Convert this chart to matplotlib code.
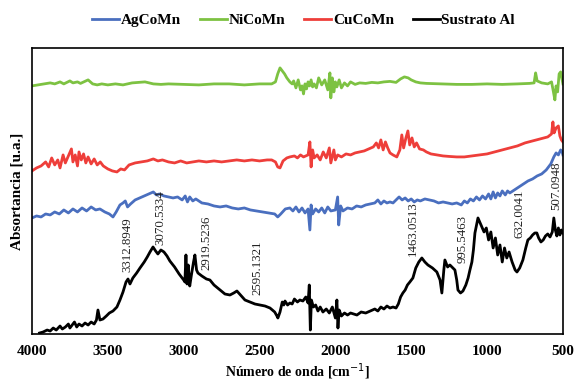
import matplotlib
matplotlib.use("Agg")
import matplotlib.pyplot as plt
import numpy as np

# FTIR spectra, y in arbitrary (offset) absorbance units
wn_ni = [4000, 3960, 3920, 3880, 3850, 3815, 3790, 3750, 3730, 3700, 3680, 3630, 3600,
         3570, 3540, 3500, 3450, 3400, 3340, 3255, 3200, 3150, 3100, 3000, 2900, 2800,
         2700, 2600, 2500, 2420, 2395, 2380, 2365, 2350, 2335, 2320, 2300, 2285, 2275,
         2260, 2245, 2230, 2220, 2210, 2200, 2190, 2180, 2170, 2160, 2150, 2140, 2125,
         2110, 2090, 2070, 2050, 2036, 2030, 2020, 2010, 2000, 1990, 1975, 1960, 1940,
         1920, 1900, 1870, 1840, 1800, 1760, 1720, 1680, 1640, 1600, 1570, 1545, 1520,
         1500, 1470, 1440, 1400, 1300, 1200, 1100, 1000, 900, 800, 720, 690, 680, 670,
         640, 600, 575, 565, 553, 545, 535, 525, 515, 505, 500]
ab_ni = [248, 249, 250, 251, 250, 252, 250, 253, 251, 252, 250.5, 254, 250,
         249, 250, 249, 250, 249, 251, 252, 250, 249.5, 250, 249.5, 249, 250,
         250, 249, 250, 250, 252, 260, 266, 263, 260, 256, 252, 250, 253,
         246, 254, 244, 248, 240, 250, 245, 252, 248, 254, 247, 250, 246,
         256, 249, 254, 244, 261, 236, 256, 242, 252, 247, 254, 246, 251,
         248, 252, 249.5, 251, 250.5, 251.5, 251, 252, 252.5, 251.5, 255, 257, 256,
         254, 252, 251, 250.5, 250, 249.5, 249.5, 250, 249.5, 250, 250.5, 251, 261, 253,
         251, 250, 252, 244, 234, 248, 242, 260, 262, 254, 250]

wn_cu = [4000, 3970, 3940, 3910, 3890, 3870, 3850, 3830, 3815, 3795, 3780, 3740, 3730,
         3715, 3700, 3690, 3675, 3660, 3645, 3630, 3610, 3590, 3570, 3550, 3530, 3500,
         3470, 3440, 3415, 3390, 3360, 3320, 3280, 3240, 3200, 3170, 3140, 3100, 3060,
         3020, 2980, 2940, 2900, 2850, 2800, 2750, 2700, 2650, 2600, 2550, 2500, 2450,
         2420, 2395, 2380, 2365, 2345, 2320, 2300, 2270, 2250, 2230, 2210, 2180, 2168,
         2160, 2150, 2140, 2120, 2100, 2080, 2060, 2040, 2030, 2010, 2000, 1985, 1960,
         1930, 1900, 1870, 1840, 1810, 1780, 1750, 1730, 1715, 1700, 1685, 1670, 1655,
         1640, 1620, 1595, 1575, 1562, 1550, 1535, 1522, 1510, 1495, 1480, 1465, 1445,
         1420, 1400, 1370, 1330, 1290, 1250, 1200, 1150, 1100, 1050, 1000, 950, 900,
         850, 800, 750, 700, 650, 600, 575, 566, 558, 545, 530, 520, 510, 500]
ab_cu = [163, 166, 168, 172, 167, 176, 169, 174, 166, 179, 171, 185, 172,
         179, 168, 182, 174, 180, 171, 177, 170, 175, 169, 172, 168, 165,
         163, 162, 165, 164, 169, 171, 172, 173, 175, 173, 174, 172, 171,
         173, 171, 172, 173, 172, 173, 172, 173, 174, 173, 174, 173, 174,
         174, 172, 167, 166, 173, 176, 177, 178, 176, 179, 177, 179, 192,
         167, 184, 176, 179, 174, 182, 176, 186, 171, 184, 174, 179, 177,
         180, 179, 181, 182, 183, 185, 187, 191, 186, 194, 184, 192, 186,
         181, 179, 177, 184, 199, 186, 196, 203, 189, 196, 187, 191, 185,
         184, 182, 180, 179, 178, 177.5, 177, 177, 178, 179, 180, 182, 184,
         186, 188, 191, 193, 195, 197, 200, 212, 201, 206, 208, 198, 194, 192]

wn_ag = [4000, 3970, 3940, 3910, 3880, 3850, 3820, 3790, 3760, 3730, 3700, 3670, 3640,
         3610, 3580, 3552, 3520, 3490, 3466, 3445, 3420, 3400, 3385, 3370, 3350, 3320,
         3290, 3260, 3230, 3200, 3180, 3160, 3130, 3100, 3070, 3040, 3010, 2990, 2975,
         2960, 2940, 2920, 2880, 2840, 2800, 2760, 2720, 2680, 2640, 2600, 2560, 2520,
         2480, 2440, 2400, 2380, 2360, 2330, 2300, 2280, 2260, 2240, 2220, 2200, 2180,
         2168, 2160, 2150, 2130, 2110, 2090, 2070, 2050, 2030, 2000, 1985, 1978, 1965,
         1950, 1920, 1890, 1860, 1830, 1800, 1770, 1740, 1720, 1700, 1680, 1660, 1640,
         1620, 1600, 1580, 1560, 1540, 1520, 1500, 1480, 1460, 1440, 1410, 1380, 1350,
         1320, 1290, 1260, 1230, 1200, 1170, 1150, 1130, 1110, 1090, 1070, 1050, 1030,
         1010, 990, 975, 960, 945, 930, 915, 900, 880, 865, 850, 820, 790, 760, 730,
         700, 670, 640, 610, 580, 560, 545, 530, 515, 505, 500]
ab_ag = [116, 118, 117, 120, 119, 122, 120, 124, 121, 125, 122, 126, 123,
         127, 124, 125, 122, 120, 117, 122, 129, 131, 133, 127, 130, 134,
         136, 138, 140, 142, 139, 140, 138, 137, 136, 137, 134, 138, 132,
         137, 133, 135, 131, 130, 128, 127, 128, 126, 125, 126, 124, 123,
         122, 121, 120, 117, 120, 125, 126, 123, 127, 122, 126, 121, 125,
         104, 129, 120, 125, 122, 126, 121, 127, 123, 124, 137, 109, 128,
         123, 126, 125, 128, 127, 129, 130, 131, 134, 130, 133, 131, 132,
         131, 134, 137, 134, 136, 133, 135, 132, 134, 133, 135, 134, 133,
         131, 132, 131, 130, 131, 129, 133, 131, 135, 133, 137, 134, 138,
         135, 140, 135, 142, 136, 141, 138, 143, 139, 143, 141, 144, 147, 150, 153,
         155, 158, 160, 164, 170, 177, 181, 179, 184, 182, 179]

wn_al = [3950, 3927, 3900, 3880, 3860, 3840, 3815, 3800, 3780, 3760, 3750, 3735, 3720,
         3705, 3690, 3670, 3650, 3630, 3610, 3590, 3575, 3565, 3552, 3532, 3510, 3490,
         3466, 3440, 3420, 3400, 3380, 3367, 3354, 3335, 3310, 3288, 3260, 3240, 3222,
         3202, 3185, 3170, 3150, 3130, 3110, 3091, 3060, 3030, 3000, 2992, 2985, 2978,
         2970, 2960, 2950, 2935, 2926, 2915, 2906, 2880, 2850, 2827, 2800, 2760, 2728,
         2695, 2670, 2649, 2620, 2596, 2563, 2530, 2497, 2464, 2431, 2400, 2385, 2379,
         2365, 2350, 2340, 2332, 2315, 2300, 2285, 2270, 2250, 2234, 2214, 2195, 2180,
         2172, 2165, 2158, 2145, 2130, 2115, 2100, 2082, 2060, 2040, 2020, 2000, 1990,
         1983, 1975, 1960, 1940, 1920, 1900, 1880, 1858, 1830, 1800, 1770, 1740, 1720,
         1700, 1680, 1660, 1640, 1620, 1600, 1585, 1570, 1555, 1540, 1525, 1509, 1489,
         1470, 1450, 1430, 1410, 1390, 1360, 1331, 1310, 1298, 1285, 1278, 1260, 1245,
         1225, 1212, 1200, 1192, 1175, 1159, 1140, 1125, 1113, 1100, 1090, 1080, 1060,
         1040, 1020, 1005, 990, 975, 960, 945, 930, 915, 900, 885, 870, 855, 835, 815,
         803, 785, 764, 745, 731, 715, 700, 685, 672, 660, 645, 630, 615, 600, 585,
         570, 560, 550, 540, 530, 520, 510, 500]
ab_al = [1, 2, 4, 3, 6, 4, 8, 5, 7, 10, 6, 9, 12,
         7, 10, 8, 11, 9, 12, 10, 14, 24, 14, 15, 18, 21,
         23, 27, 34, 42, 52, 55, 50, 56, 61, 66, 72, 77, 82,
         87, 83, 80, 84, 82, 78, 73, 67, 60, 54, 52, 79, 50,
         69, 48, 58, 72, 79, 64, 61, 58, 55, 54, 49, 44, 40,
         39, 41, 43, 38, 34, 32, 30, 29, 28, 26, 22, 18, 16,
         22, 32, 29, 33, 29, 31, 30, 35, 32, 34, 33, 37, 31,
         49, 4, 34, 27, 29, 23, 27, 22, 25, 21, 27, 16, 34,
         6, 24, 18, 21, 19, 21, 20, 19, 22, 21, 23, 25, 23,
         27, 25, 28, 26, 27, 26, 30, 37, 41, 44, 49, 52, 56,
         66, 72, 76, 72, 69, 66, 62, 54, 41, 64, 74, 67, 69,
         66, 64, 54, 44, 41, 43, 49, 56, 64, 72, 84, 101, 116,
         109, 102, 106, 94, 102, 86, 96, 79, 89, 72, 86, 76, 82, 72, 64,
         62, 66, 74, 86, 94, 96, 99, 101, 101, 96, 92, 94, 98, 100, 97,
         102, 116, 104, 98, 106, 99, 104, 101]

peak_wn = [3374, 3156, 2853, 2517, 1489, 1159, 784, 547]
peak_y = [62, 89, 64, 39, 78, 71, 96, 124]
peak_labels = ["3312.8949", "3070.5334", "2919.5236", "2595.1321",
               "1463.0513", "995.5463", "632.0041", "507.0948"]

serif = "Liberation Serif"

fig = plt.figure(figsize=(5.74, 3.8), dpi=100)
ax = fig.add_axes([0.0557, 0.121, 0.925, 0.753])

ax.plot(wn_ag, ab_ag, color="#4A6FBF", lw=2.0, label="AgCoMn")
ax.plot(wn_ni, ab_ni, color="#7DC242", lw=2.0, label="NiCoMn")
ax.plot(wn_cu, ab_cu, color="#EE3E3A", lw=2.0, label="CuCoMn")
ax.plot(wn_al, ab_al, color="black", lw=2.0, label="Sustrato Al")

for x, y, s in zip(peak_wn, peak_y, peak_labels):
    ax.text(x, y, s, rotation=90, ha="center", va="bottom",
            fontsize=9.3, family=serif, color="#222222")

ax.set_xlim(4000, 500)
ax.set_ylim(0, 286)
ax.set_xticks([4000, 3500, 3000, 2500, 2000, 1500, 1000, 500])
ax.set_yticks([])
ax.tick_params(axis="x", length=0, pad=8)
for lab in ax.get_xticklabels():
    lab.set_fontfamily(serif)
    lab.set_fontweight("bold")
    lab.set_fontsize(11)
for sp in ax.spines.values():
    sp.set_linewidth(1.2)

ax.set_xlabel("Número de onda [cm$^{-1}$]", family=serif, fontweight="bold",
              fontsize=10, labelpad=2)
ax.set_ylabel("Absortancia [u.a.]", family=serif, fontweight="bold",
              fontsize=11, labelpad=6)

fig.legend(loc="center", bbox_to_anchor=(0.529, 0.947), ncol=4, frameon=False,
           handlelength=1.77, handletextpad=0.1, columnspacing=1.25,
           prop={"family": serif, "weight": "bold", "size": 11})

fig.savefig("out.png", dpi=100)
